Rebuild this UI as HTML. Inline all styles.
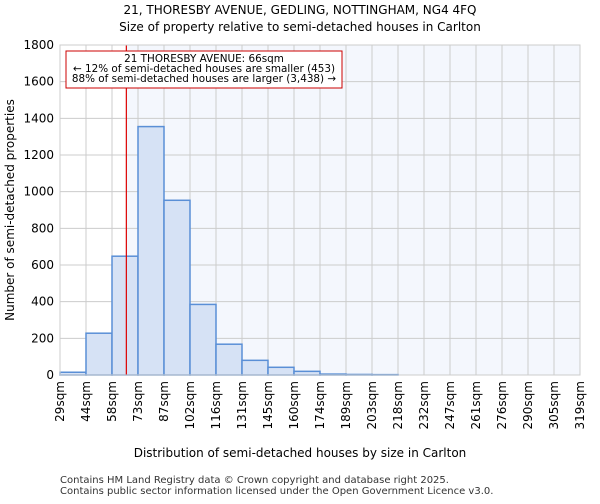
<!DOCTYPE html>
<html><head><meta charset="utf-8"><style>
body{margin:0;background:#fff;font-family:"DejaVu Sans","Liberation Sans",sans-serif;}
</style></head><body>
<svg id="c" width="600" height="500" xmlns="http://www.w3.org/2000/svg" font-family="DejaVu Sans, Liberation Sans, sans-serif">
<text x="300" y="14" text-anchor="middle" font-size="12">21, THORESBY AVENUE, GEDLING, NOTTINGHAM, NG4 4FQ</text>
<text x="300" y="31" text-anchor="middle" font-size="12">Size of property relative to semi-detached houses in Carlton</text>
<g id="plot"></g>
<text x="300" y="457" text-anchor="middle" font-size="12">Distribution of semi-detached houses by size in Carlton</text>
<text transform="translate(14,210) rotate(-90)" text-anchor="middle" font-size="12">Number of semi-detached properties</text>
<text x="60" y="483" font-size="10" fill="#333">Contains HM Land Registry data © Crown copyright and database right 2025.</text>
<text x="60" y="494" font-size="10" fill="#333">Contains public sector information licensed under the Open Government Licence v3.0.</text>
</svg>
<script>
const categories=["29sqm","44sqm","58sqm","73sqm","87sqm","102sqm","116sqm","131sqm","145sqm","160sqm","174sqm","189sqm","203sqm","218sqm","232sqm","247sqm","261sqm","276sqm","290sqm","305sqm","319sqm"];
const counts=[15,228,648,1355,953,385,168,80,42,20,5,3,2,0,0,0,0,0,0,0];
const yTicks=[0,200,400,600,800,1000,1200,1400,1600,1800];
const markerValue=66;
const binEdges=[29,43.5,58,72.5,87,101.5,116,130.5,145,159.5,174,188.5,203,217.5,232,246.5,261,275.5,290,304.5,319];
const NS="http://www.w3.org/2000/svg";
const L=60,R=580,T=45,B=375;
const bw=(R-L)/counts.length;
const y=v=>B-(v/1800)*(B-T);
const xi=i=>L+i*bw;
const xv=v=>{for(let i=0;i<binEdges.length-1;i++){if(v<=binEdges[i+1])return xi(i)+bw*(v-binEdges[i])/(binEdges[i+1]-binEdges[i]);}return R;};
const g=document.getElementById('plot');
function mk(t,a){const e=document.createElementNS(NS,t);for(const k in a)e.setAttribute(k,a[k]);g.appendChild(e);return e;}
const mx=xv(markerValue);
let bg=mk('rect',{x:mx,y:T,width:R-mx,height:B-T,fill:'#f4f7fd'});


yTicks.forEach(t=>{let l=mk('line',{x1:L,x2:R,y1:y(t),y2:y(t),stroke:'#ccc','stroke-width':1});


let tx=mk('text',{x:L-6,y:y(t)+4,'text-anchor':'end','font-size':'12'});tx.textContent=t;

});
categories.forEach((c,i)=>{const x=xi(i);let l=mk('line',{x1:x,x2:x,y1:T,y2:B,stroke:'#ccc','stroke-width':1});


let tx=mk('text',{transform:`translate(${x+4},${B+6}) rotate(-90)`,'text-anchor':'end','font-size':'12'});tx.textContent=c;

});
counts.forEach((v,i)=>{let r=mk('rect',{x:xi(i),y:y(v),width:bw,height:B-y(v),fill:'#d6e2f5',stroke:'#5a8fd6','stroke-width':1.5});

});
let ml=mk('line',{x1:mx,x2:mx,y1:T,y2:B,stroke:'#d00','stroke-width':1.2});


let ab=mk('rect',{x:66,y:51,width:276,height:37,fill:'#fff',stroke:'#c00','stroke-width':1});


["21 THORESBY AVENUE: 66sqm","← 12% of semi-detached houses are smaller (453)","88% of semi-detached houses are larger (3,438) →"].forEach((s,i)=>{let t=mk('text',{x:204,y:62+i*10,'text-anchor':'middle','font-size':'10.4'});t.textContent=s;

});
let ax=mk('rect',{x:L,y:T,width:R-L,height:B-T,fill:'none',stroke:'#ccc','stroke-width':1});


</script>
</body></html>
